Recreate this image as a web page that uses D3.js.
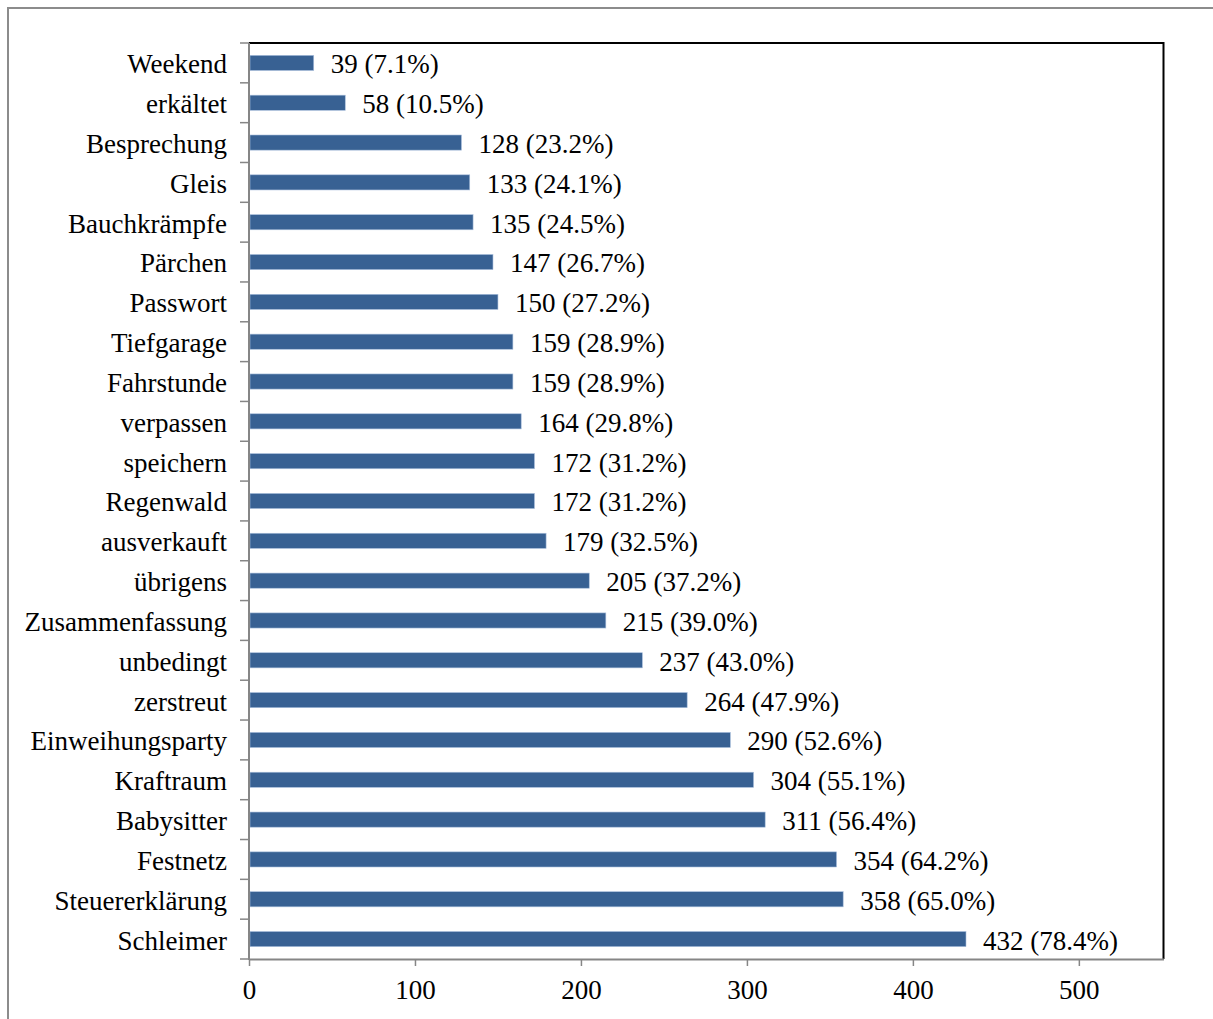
<!DOCTYPE html>
<html><head><meta charset="utf-8">
<script src="https://cdn.jsdelivr.net/npm/d3@7"></script>
<style>body{margin:0;background:#fff;} svg{display:block;}</style>
</head><body>
<script>
const categories = ["Weekend","erkältet","Besprechung","Gleis","Bauchkrämpfe","Pärchen","Passwort","Tiefgarage","Fahrstunde","verpassen","speichern","Regenwald","ausverkauft","übrigens","Zusammenfassung","unbedingt","zerstreut","Einweihungsparty","Kraftraum","Babysitter","Festnetz","Steuererklärung","Schleimer"];
const values = [39,58,128,133,135,147,150,159,159,164,172,172,179,205,215,237,264,290,304,311,354,358,432];
const percents = ["7.1","10.5","23.2","24.1","24.5","26.7","27.2","28.9","28.9","29.8","31.2","31.2","32.5","37.2","39.0","43.0","47.9","52.6","55.1","56.4","64.2","65.0","78.4"];
const total = 551;
const xTicks = [0,100,200,300,400,500];

const W = 1213, H = 1019;
const L = 249, R = 1163.5, T = 43, B = 959;
const font = "'Liberation Serif','Times New Roman',serif";
const fs = 27;

const svg = d3.select("body").append("svg").attr("width", W).attr("height", H);
svg.append("rect").attr("x",8).attr("y",8).attr("width",1240).attr("height",1060)
  .attr("fill","none").attr("stroke","#8c8c8c").attr("stroke-width",2);

const x = d3.scaleLinear().domain([0,total]).range([L,R]);
const y = d3.scaleBand().domain(categories).range([T,B]).paddingInner(0.62).paddingOuter(0.31);
const yb = d3.scaleLinear().domain([0,categories.length]).range([T,B]);

// plot frame top/right
svg.append("line").attr("x1",L).attr("x2",R).attr("y1",T).attr("y2",T).attr("stroke","#000").attr("stroke-width",2);
svg.append("line").attr("x1",R).attr("x2",R).attr("y1",T-1).attr("y2",B).attr("stroke","#000").attr("stroke-width",2);

// bars
svg.append("g").selectAll("rect").data(categories).join("rect")
  .attr("x", x(0)+1).attr("y", d=>y(d))
  .attr("width", (d,i)=>x(values[i])-x(0)-1).attr("height", y.bandwidth())
  .attr("fill","#386193").attr("stroke","#a9bfdc").attr("stroke-width",0.6);

// value labels
svg.append("g").selectAll("text").data(categories).join("text")
  .attr("x",(d,i)=>x(values[i])+17).attr("y",d=>y(d)+y.bandwidth()/2+1)
  .attr("dy","0.35em").attr("font-family",font).attr("font-size",fs).attr("fill","#000")
  .text((d,i)=>`${values[i]} (${percents[i]}%)`);

// y axis
const ticksY = d3.range(categories.length+1);
svg.append("g").selectAll("line").data(ticksY).join("line")
  .attr("x1",240).attr("x2",L).attr("y1",d=>yb(d)).attr("y2",d=>yb(d)).attr("stroke","#868686").attr("stroke-width",1.5);
svg.append("line").attr("x1",L).attr("x2",L).attr("y1",T).attr("y2",B+1).attr("stroke","#868686").attr("stroke-width",2);
svg.append("g").selectAll("text").data(categories).join("text")
  .attr("x",227).attr("y",d=>y(d)+y.bandwidth()/2+1).attr("dy","0.35em").attr("text-anchor","end")
  .attr("font-family",font).attr("font-size",fs).attr("fill","#000").text(d=>d);

// x axis
const xa = svg.append("g").attr("transform",`translate(0,${B})`)
  .call(d3.axisBottom(x).tickValues(xTicks).tickSize(7).tickSizeOuter(0).tickPadding(14));
xa.select(".domain").attr("stroke","#868686").attr("stroke-width",2);
xa.selectAll(".tick line").attr("stroke","#868686").attr("stroke-width",1.5);
xa.selectAll(".tick text").attr("font-family",font).attr("font-size",fs).attr("fill","#000");
</script>
</body></html>
